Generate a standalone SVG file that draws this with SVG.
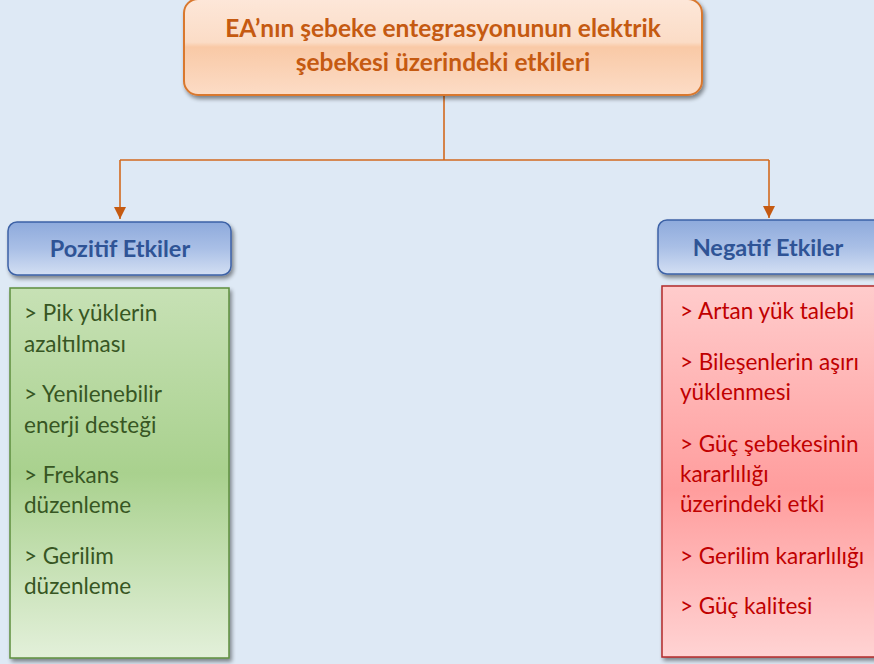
<svg xmlns="http://www.w3.org/2000/svg" width="874" height="664" viewBox="0 0 874 664">
  <style>
    .title { font-family: Lato, "Open Sans", sans-serif; font-weight: bold; font-size: 24.5px; fill: #c55a11; text-anchor: middle; }
    .head { font-family: Lato, "Open Sans", sans-serif; font-weight: bold; font-size: 23.5px; fill: #2f5496; text-anchor: middle; }
    .pos { font-family: Lato, "Open Sans", sans-serif; font-size: 22.5px; fill: #375623; }
    .neg { font-family: Lato, "Open Sans", sans-serif; font-size: 22.5px; fill: #c00000; }
    .conn { fill: none; stroke: #d2691e; stroke-width: 1.6; }
  </style>
  <defs>
    <filter id="shadow" x="-10%" y="-10%" width="120%" height="130%">
      <feGaussianBlur in="SourceAlpha" stdDeviation="2"/>
      <feOffset dx="2" dy="3" result="b"/>
      <feComponentTransfer><feFuncA type="linear" slope="0.45"/></feComponentTransfer>
      <feMerge><feMergeNode/><feMergeNode in="SourceGraphic"/></feMerge>
    </filter>
    <linearGradient id="gPeach" x1="0" y1="0" x2="0" y2="1">
      <stop offset="0" stop-color="#fde7d9"/>
      <stop offset="0.45" stop-color="#fbdcc6"/>
      <stop offset="0.5" stop-color="#f9c9a6"/>
      <stop offset="1" stop-color="#fcdcc6"/>
    </linearGradient>
    <linearGradient id="gBlue" x1="0" y1="0" x2="0" y2="1">
      <stop offset="0" stop-color="#8eaadc"/>
      <stop offset="0.5" stop-color="#a9bfe6"/>
      <stop offset="1" stop-color="#d3dff3"/>
    </linearGradient>
    <linearGradient id="gGreen" x1="0" y1="0" x2="0" y2="1">
      <stop offset="0" stop-color="#c7e1b5"/>
      <stop offset="0.5" stop-color="#a9d18e"/>
      <stop offset="1" stop-color="#e3f0da"/>
    </linearGradient>
    <linearGradient id="gRed" x1="0" y1="0" x2="0" y2="1">
      <stop offset="0" stop-color="#ffcccc"/>
      <stop offset="0.55" stop-color="#ff9d9d"/>
      <stop offset="1" stop-color="#ffd3d3"/>
    </linearGradient>
    <marker id="arrow" markerWidth="12" markerHeight="12" refX="12" refY="6" orient="auto" markerUnits="userSpaceOnUse">
      <path d="M0,0 L12,6 L0,12 Z" fill="#c55a11"/>
    </marker>
  </defs>

  <rect width="874" height="664" fill="#dee9f5"/>

  <g id="connectors">
    <path class="conn" d="M444,95 V160"/>
    <path class="conn" d="M120,160 H769"/>
    <path class="conn" d="M120,160 V219" marker-end="url(#arrow)"/>
    <path class="conn" d="M769,160 V218" marker-end="url(#arrow)"/>
  </g>

  <g id="root">
    <rect x="184" y="-1" width="518" height="96" rx="14" fill="url(#gPeach)" stroke="#d9782f" stroke-width="2" filter="url(#shadow)"/>
    <text class="title" x="443" y="37">EA’nın şebeke entegrasyonunun elektrik</text>
    <text class="title" x="443" y="71">şebekesi üzerindeki etkileri</text>
  </g>

  <g id="positive-head">
    <rect x="8" y="222" width="223" height="53" rx="9" fill="url(#gBlue)" stroke="#3d62a6" stroke-width="1.5" filter="url(#shadow)"/>
    <text class="head" x="120" y="257">Pozitif Etkiler</text>
  </g>

  <g id="negative-head">
    <rect x="658" y="220" width="230" height="54" rx="9" fill="url(#gBlue)" stroke="#3d62a6" stroke-width="1.5" filter="url(#shadow)"/>
    <text class="head" x="768" y="256">Negatif Etkiler</text>
  </g>

  <g id="positive-list">
    <rect x="10" y="288" width="219" height="370" fill="url(#gGreen)" stroke="#5e8e3e" stroke-width="1.5" filter="url(#shadow)"/>
    <text class="pos" x="24" y="321">&gt; Pik yüklerin</text>
    <text class="pos" x="24" y="352">azaltılması</text>
    <text class="pos" x="24" y="402">&gt; Yenilenebilir</text>
    <text class="pos" x="24" y="433">enerji desteği</text>
    <text class="pos" x="24" y="483">&gt; Frekans</text>
    <text class="pos" x="24" y="513">düzenleme</text>
    <text class="pos" x="24" y="564">&gt; Gerilim</text>
    <text class="pos" x="24" y="594">düzenleme</text>
  </g>

  <g id="negative-list">
    <rect x="662" y="286" width="226" height="371" fill="url(#gRed)" stroke="#b22a2a" stroke-width="1.5" filter="url(#shadow)"/>
    <text class="neg" x="680" y="319">&gt; Artan yük talebi</text>
    <text class="neg" x="680" y="370">&gt; Bileşenlerin aşırı</text>
    <text class="neg" x="680" y="400">yüklenmesi</text>
    <text class="neg" x="680" y="452">&gt; Güç şebekesinin</text>
    <text class="neg" x="680" y="482">kararlılığı</text>
    <text class="neg" x="680" y="512">üzerindeki etki</text>
    <text class="neg" x="680" y="564">&gt; Gerilim kararlılığı</text>
    <text class="neg" x="680" y="614">&gt; Güç kalitesi</text>
  </g>
</svg>
